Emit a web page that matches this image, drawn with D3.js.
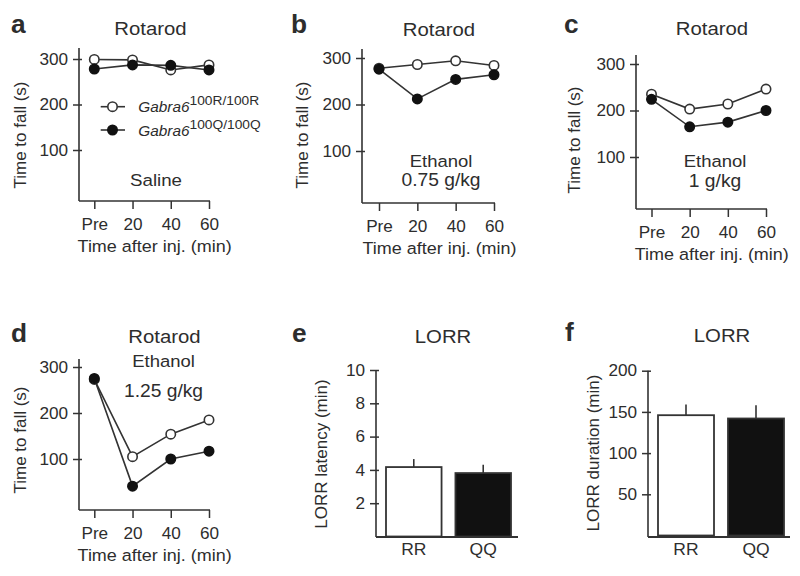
<!DOCTYPE html>
<html><head><meta charset="utf-8">
<script src="https://cdn.jsdelivr.net/npm/d3@7"></script>
<style>
body{margin:0;background:#fff}
svg{display:block}
text{font-family:"Liberation Sans",Arial,Helvetica,sans-serif;fill:#2d2d2d}
</style>
</head><body>
<svg id="chart" width="800" height="576"></svg>
<script>
// ---------- data ----------
const timePoints = ["Pre", "20", "40", "60"];
const salineRR = [299, 298, 276, 287];
const salineQQ = [278, 287, 286, 276];
const eth075RR = [278, 286, 294, 284];
const eth075QQ = [276, 212, 254, 264];
const eth1RR = [235, 203, 214, 246];
const eth1QQ = [224, 165, 175, 200];
const eth125RR = [273, 105, 154, 185];
const eth125QQ = [275, 41, 100, 117];
const rotarodTicks = [100, 200, 300];

const genotypes = ["RR", "QQ"];
const latencyMean = [4.17, 3.81];
const latencyErr = [0.48, 0.5];
const latencyTicks = [2, 4, 6, 8, 10];
const durationMean = [146, 142];
const durationErr = [13, 16];
const durationTicks = [50, 100, 150, 200];

// ---------- helpers ----------
const svg = d3.select("#chart");
const INK = "#333";
const SX = 1.1;
const TICK = 16.5, TSX = 1.04;

function txt(x, y, s, o = {}) {
  const t = svg.append("text")
    .attr("transform", `translate(${x},${y}) ${o.rot ? "rotate(-90)" : "scale(" + (o.sx || SX) + ",1)"}`)
    .attr("text-anchor", o.anchor || "middle")
    .style("font-size", (o.size || 16) + "px")
    .style("font-weight", o.bold ? "bold" : "normal")
    .text(s);
  return t;
}

function styleAxis(g, size) {
  g.select(".domain").remove();
  g.selectAll(".tick line").attr("stroke", INK).attr("stroke-width", 1.5);
  g.selectAll(".tick text").style("font-size", size + "px").attr("fill", "#2d2d2d")
    .style("font-family", '"Liberation Sans",Arial,sans-serif');
}

function yAxis(ax, y, ticks, bottom, top) {
  const g = svg.append("g").attr("transform", `translate(${ax},0)`)
    .call(d3.axisLeft(y).tickValues(ticks).tickSize(6).tickPadding(4.5).tickSizeOuter(0));
  styleAxis(g, TICK);
  g.selectAll(".tick line").attr("x1", 3);
  g.selectAll(".tick text").attr("transform", `scale(${TSX},1)`);
  svg.append("line").attr("x1", ax).attr("x2", ax).attr("y1", bottom).attr("y2", top)
    .attr("stroke", INK).attr("stroke-width", 1.6);
}

function rotPanel(cfg) {
  const y = d3.scaleLinear().domain([100, 300]).range([cfg.y100, cfg.y300]);
  const x = d3.scalePoint().domain(timePoints).range([cfg.x0, cfg.x1]);
  yAxis(cfg.ax, y, rotarodTicks, cfg.bottom, cfg.top);
  const gx = svg.append("g").attr("transform", `translate(0,${cfg.bottom})`)
    .call(d3.axisBottom(x).tickSize(8).tickPadding(9.5).tickSizeOuter(0));
  styleAxis(gx, TICK);
  gx.selectAll(".tick text").attr("transform", `scale(${TSX},1)`);
  svg.append("line").attr("x1", cfg.ax).attr("x2", cfg.x1 + 1).attr("y1", cfg.bottom).attr("y2", cfg.bottom)
    .attr("stroke", INK).attr("stroke-width", 1.6);
  const line = d3.line().x((d, i) => x(timePoints[i])).y(d => y(d));
  [cfg.rr, cfg.qq].forEach(vals => {
    svg.append("path").attr("d", line(vals)).attr("fill", "none").attr("stroke", INK).attr("stroke-width", 1.6);
  });
  [[cfg.rr, "#fff"], [cfg.qq, "#111"]].forEach(([vals, fill]) => {
    svg.append("g").selectAll("circle").data(vals).join("circle")
      .attr("cx", (d, i) => x(timePoints[i])).attr("cy", d => y(d)).attr("r", 4.7)
      .attr("fill", fill).attr("stroke", fill === "#fff" ? INK : "#111").attr("stroke-width", 1.6);
  });
  const xc = (cfg.x0 + cfg.x1) / 2 + 3;
  txt(xc, cfg.bottom + 51, "Time after inj. (min)", { size: 16.5, sx: 1.09 });
  txt(cfg.ylx, cfg.yly, "Time to fall (s)", { rot: true, size: 17 });
}

function barPanel(cfg) {
  const y = d3.scaleLinear().domain([0, cfg.max]).range([cfg.zero, cfg.top]);
  const x = d3.scaleBand().domain(genotypes).range([cfg.b0, cfg.b1]).paddingInner(0.2).paddingOuter(0);
  yAxis(cfg.ax, y, cfg.ticks, cfg.bottom, cfg.top);
  const gx = svg.append("g").attr("transform", `translate(0,${cfg.bottom})`)
    .call(d3.axisBottom(x).tickSize(0).tickPadding(6));
  styleAxis(gx, 16.5);
  gx.selectAll(".tick text").attr("transform", `scale(1.06,1)`);
  svg.append("line").attr("x1", cfg.ax).attr("x2", cfg.xend).attr("y1", cfg.bottom).attr("y2", cfg.bottom)
    .attr("stroke", INK).attr("stroke-width", 1.8);
  svg.append("g").selectAll("line").data(genotypes).join("line")
    .attr("x1", d => x(d) + x.bandwidth() / 2).attr("x2", d => x(d) + x.bandwidth() / 2)
    .attr("y1", (d, i) => y(cfg.mean[i])).attr("y2", (d, i) => y(cfg.mean[i] + cfg.err[i]))
    .attr("stroke", INK).attr("stroke-width", 1.6);
  svg.append("g").selectAll("rect").data(genotypes).join("rect")
    .attr("x", d => x(d)).attr("width", x.bandwidth())
    .attr("y", (d, i) => y(cfg.mean[i])).attr("height", (d, i) => y(0) - y(cfg.mean[i]))
    .attr("fill", (d, i) => i === 0 ? "#fff" : "#111").attr("stroke", INK).attr("stroke-width", 1.8);
  txt(cfg.ylx, cfg.yly, cfg.ylabel, { rot: true, size: 17 });
}

// ---------- panels ----------
rotPanel({ ax: 79, y100: 150, y300: 59, bottom: 201, top: 48, x0: 94.3, x1: 209, rr: salineRR, qq: salineQQ, ylx: 26, yly: 135 });
rotPanel({ ax: 362, y100: 151, y300: 58, bottom: 203, top: 49, x0: 379, x1: 494, rr: eth075RR, qq: eth075QQ, ylx: 308, yly: 135 });
rotPanel({ ax: 636, y100: 157, y300: 64, bottom: 209, top: 55, x0: 651.5, x1: 766, rr: eth1RR, qq: eth1QQ, ylx: 580, yly: 140 });
rotPanel({ ax: 79, y100: 459, y300: 367, bottom: 510, top: 359, x0: 94.3, x1: 209, rr: eth125RR, qq: eth125QQ, ylx: 26, yly: 440 });

barPanel({ ax: 376, zero: 536.5, top: 370, bottom: 537, max: 10, ticks: latencyTicks, b0: 386, b1: 511, xend: 518,
  mean: latencyMean, err: latencyErr, ylx: 327, yly: 454, ylabel: "LORR latency (min)" });
barPanel({ ax: 648, zero: 535.5, top: 370.7, bottom: 537, max: 200, ticks: durationTicks, b0: 658, b1: 784, xend: 790,
  mean: durationMean, err: durationErr, ylx: 599, yly: 453, ylabel: "LORR duration (min)" });

// ---------- titles, letters, annotations ----------
const letters = [["a", 11, 33], ["b", 291, 33], ["c", 564, 33], ["d", 11, 342], ["e", 292, 342], ["f", 565, 341]];
letters.forEach(([s, x, y]) => txt(x, y, s, { anchor: "start", size: 25, bold: true, sx: 1.05 }));

txt(150.5, 35, "Rotarod", { size: 18.5 });
txt(439, 36, "Rotarod", { size: 18.5 });
txt(712, 35, "Rotarod", { size: 18.5 });
txt(164.5, 343, "Rotarod", { size: 18.5 });
txt(443, 342.5, "LORR", { size: 18.5 });
txt(722, 341.5, "LORR", { size: 18.5 });

txt(156, 186, "Saline", { size: 17 });
txt(441, 166.5, "Ethanol", { size: 16.8 });
txt(441, 186, "0.75 g/kg", { size: 17.5 });
txt(715, 166.5, "Ethanol", { size: 16.8 });
txt(715, 187, "1 g/kg", { size: 17.5 });
txt(163.5, 367, "Ethanol", { size: 16.8 });
txt(163.5, 396.5, "1.25 g/kg", { size: 17.5 });

// legend (panel a)
const legendRows = [["100R/100R", "#fff", 106.7, 112.3], ["100Q/100Q", "#111", 130, 135.7]];
legendRows.forEach(([sup, fill, cy, base]) => {
  svg.append("line").attr("x1", 100.7).attr("x2", 125).attr("y1", cy).attr("y2", cy).attr("stroke", INK).attr("stroke-width", 1.6);
  svg.append("circle").attr("cx", 112.5).attr("cy", cy).attr("r", 4.7).attr("fill", fill)
    .attr("stroke", fill === "#fff" ? INK : "#111").attr("stroke-width", 1.6);
  const t = txt(138.3, base, "", { anchor: "start", size: 14.5, sx: 1.06 });
  t.append("tspan").style("font-style", "italic").text("Gabra6");
  t.append("tspan").attr("dy", -7).style("font-size", "13px").text(sup);
});
</script>
</body></html>
